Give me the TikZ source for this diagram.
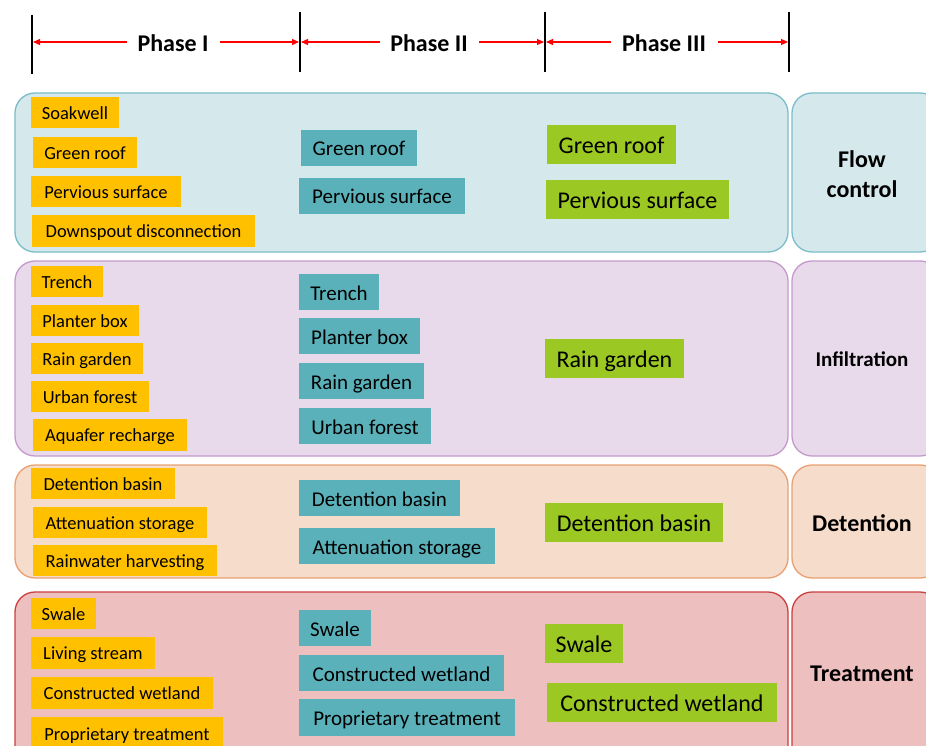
\documentclass[tikz,border=0pt]{standalone}
\usepackage{fontspec}
\setmainfont{Carlito}
\usetikzlibrary{arrows.meta}
\definecolor{flowF}{RGB}{213,232,236}
\definecolor{flowD}{RGB}{122,190,200}
\definecolor{infF}{RGB}{233,218,235}
\definecolor{infD}{RGB}{196,154,203}
\definecolor{detF}{RGB}{246,220,203}
\definecolor{detD}{RGB}{233,160,115}
\definecolor{trtF}{RGB}{238,191,191}
\definecolor{trtD}{RGB}{200,64,63}
\definecolor{yel}{RGB}{255,192,0}
\definecolor{tea}{RGB}{91,177,186}
\definecolor{grn}{RGB}{155,200,35}
\newcommand\bx[7]{\node[#1, minimum width={(#5-#3)*1pt}, minimum height={(#6-#4)*1pt}] (#2) at ({(#3+#5)/2},{(#4+#6)/2}) {#7};}
\tikzset{
  grp/.style={rectangle, rounded corners=20pt, line width=1.3pt, inner sep=0pt},
  itm/.style={rectangle, inner sep=0pt},
  pI/.style={itm, fill=yel, font=\fontsize{18.5}{20}\selectfont, text height=17.6pt, text depth=3.9pt},
  pII/.style={itm, fill=tea, font=\fontsize{21}{23}\selectfont, text height=20pt, text depth=4pt},
  pIII/.style={itm, fill=grn, font=\fontsize{24}{26}\selectfont, text height=22.8pt, text depth=5pt},
  cat/.style={align=center, font=\bfseries\fontsize{24}{28}\selectfont},
  phase/.style={font=\bfseries\fontsize{24}{26}\selectfont, inner sep=0pt},
  vline/.style={line width=2pt, black},
  redarr/.style={red, line width=1.2pt, -{Triangle[length=7pt,width=6pt]}},
}
\begin{document}
\begin{tikzpicture}[x=1pt,y=-1pt]
\clip (0,0) rectangle (926,746);
\fill[white] (0,0) rectangle (926,746);
% header
\coordinate (l1t) at (32,15); \coordinate (l1b) at (32,74);
\coordinate (l2t) at (300,12); \coordinate (l2b) at (300,72);
\coordinate (l3t) at (545,12); \coordinate (l3b) at (545,72);
\coordinate (l4t) at (789,12); \coordinate (l4b) at (789,72);
\draw[vline] (l1t) -- (l1b);
\draw[vline] (l2t) -- (l2b);
\draw[vline] (l3t) -- (l3b);
\draw[vline] (l4t) -- (l4b);
\coordinate (a1) at (33,42); \coordinate (a2) at (299,42);
\coordinate (a3) at (301,42); \coordinate (a4) at (544,42);
\coordinate (a5) at (546,42); \coordinate (a6) at (788,42);
\node[phase] (ph1) at (173,43) {Phase I};
\node[phase] (ph2) at (429,43) {Phase II};
\node[phase] (ph3) at (664,43) {Phase III};
\draw[redarr] (127,42) -- (a1);
\draw[redarr] (220,42) -- (a2);
\draw[redarr] (380,42) -- (a3);
\draw[redarr] (479,42) -- (a4);
\draw[redarr] (611,42) -- (a5);
\draw[redarr] (718,42) -- (a6);
% group containers
\bx{grp, fill=flowF, draw=flowD}{gflow}{15}{93}{788}{252}{}
\bx{grp, fill=flowF, draw=flowD}{cflow}{792}{93}{940}{252}{}
\bx{grp, fill=infF, draw=infD}{ginf}{15}{261}{788}{456}{}
\bx{grp, fill=infF, draw=infD}{cinf}{792}{261}{940}{456}{}
\bx{grp, fill=detF, draw=detD}{gdet}{15}{465}{788}{578}{}
\bx{grp, fill=detF, draw=detD}{cdet}{792}{465}{940}{578}{}
\bx{grp, fill=trtF, draw=trtD}{gtrt}{15}{592}{788}{780}{}
\bx{grp, fill=trtF, draw=trtD}{ctrt}{792}{592}{940}{780}{}
\node[cat] (tflow) at (862,174) {Flow\\[2pt]control};
\node[cat, font=\bfseries\fontsize{21}{24}\selectfont] (tinf) at (862,359) {Infiltration};
\node[cat] (tdet) at (862,523) {Detention};
\node[cat] (ttrt) at (862,674) {Treatment};
% Phase I
\bx{pI}{a11}{31}{97}{119}{128}{Soakwell}
\bx{pI}{a12}{33}{137}{137}{168}{Green roof}
\bx{pI}{a13}{31}{176}{181}{207}{Pervious surface}
\bx{pI}{a14}{32}{215}{255}{247}{Downspout disconnection}
\bx{pI}{a21}{31}{266}{103}{297}{Trench}
\bx{pI}{a22}{31}{305}{139}{336}{Planter box}
\bx{pI}{a23}{31}{343}{143}{374}{Rain garden}
\bx{pI}{a24}{31}{381}{149}{412}{Urban forest}
\bx{pI}{a25}{33}{419}{187}{451}{Aquafer recharge}
\bx{pI}{a31}{31}{468}{175}{499}{Detention basin}
\bx{pI}{a32}{33}{507}{207}{538}{Attenuation storage}
\bx{pI}{a33}{33}{545}{217}{576}{Rainwater harvesting}
\bx{pI}{a41}{31}{598}{96}{629}{Swale}
\bx{pI}{a42}{31}{637}{155}{669}{Living stream}
\bx{pI}{a43}{31}{677}{213}{709}{Constructed wetland}
\bx{pI}{a44}{31}{717}{223}{750}{Proprietary treatment}
% Phase II
\bx{pII}{b11}{301}{130}{417}{166}{Green roof}
\bx{pII}{b12}{299}{178}{465}{214}{Pervious surface}
\bx{pII}{b21}{299}{274}{379}{310}{Trench}
\bx{pII}{b22}{299}{318}{420}{354}{Planter box}
\bx{pII}{b23}{299}{363}{424}{399}{Rain garden}
\bx{pII}{b24}{299}{408}{431}{444}{Urban forest}
\bx{pII}{b31}{299}{480}{460}{516}{Detention basin}
\bx{pII}{b32}{299}{528}{495}{564}{Attenuation storage}
\bx{pII}{b41}{299}{610}{371}{646}{Swale}
\bx{pII}{b42}{299}{655}{504}{691}{Constructed wetland}
\bx{pII}{b43}{299}{699}{515}{736}{Proprietary treatment}
% Phase III
\bx{pIII}{c11}{547}{125}{676}{164}{Green roof}
\bx{pIII}{c12}{546}{180}{729}{219}{Pervious surface}
\bx{pIII}{c21}{545}{339}{684}{378}{Rain garden}
\bx{pIII}{c31}{545}{503}{723}{542}{Detention basin}
\bx{pIII}{c41}{545}{624}{623}{663}{Swale}
\bx{pIII}{c42}{547}{683}{777}{722}{Constructed wetland}
\end{tikzpicture}
\end{document}
